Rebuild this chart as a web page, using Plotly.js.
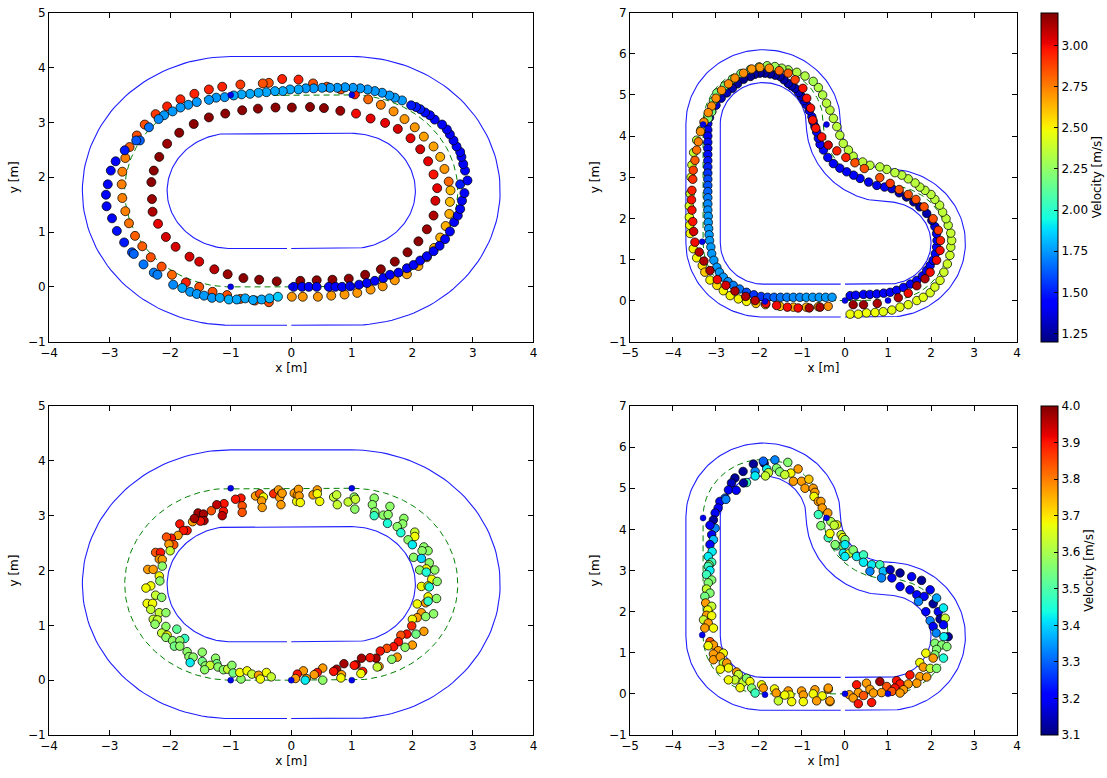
<!DOCTYPE html>
<html><head><meta charset="utf-8">
<script src="https://cdn.plot.ly/plotly-3.0.1.min.js"></script>
<style>html,body{margin:0;padding:0;background:#fff}#plot{width:1107px;height:778px}</style>
</head><body><div id="plot"></div>
<script>
// ---------------- DATA ----------------
// velocity ranges of the two colour bars
const topRange = [1.2, 3.2];
const botRange = [3.1, 4.0];
const topTicks = [1.25, 1.5, 1.75, 2.0, 2.25, 2.5, 2.75, 3.0];
const botTicks = [3.1, 3.2, 3.3, 3.4, 3.5, 3.6, 3.7, 3.8, 3.9, 4.0];

// oval track geometry: arc centres x = +-ovalCx, centre y, radii (inner, centre line, outer)
const ovalCx = 1.0, ovalCy = 1.75;
const ovalRadii = [1.05, 1.75, 2.45];
// heart track geometry: lobe / fillet centres, radii (inner, centre line, outer)
const heartBL = [-1.9, 1.4], heartR = [1.0, 1.4], heartT = [-1.9, 4.3], heartF = [1.0, 4.3];
const heartRadii = [1.0, 1.4, 1.8];

// waypoints (small dots)
const ovalWaypoints = [[0,0],[1,0],[1,3.5],[-1,3.5],[-1,0]];
const heartWaypoints = [[0,0],[1,0],[-0.43,4.28],[-3.3,4.28],[-3.32,1.43],[-1.86,-0.02]];

// top-left: [x, y, velocity]
const tlInner = [[0.15,0.11,3.18],[0.42,0.12,3.18],[0.68,0.13,3.18],[0.95,0.15,3.18],[1.22,0.22,3.18],[1.48,0.32,3.18],[1.71,0.46,3.18],[1.92,0.63,3.18],[2.10,0.83,3.18],[2.24,1.05,3.15],[2.35,1.30,3.12],[2.38,1.57,3.05],[2.41,1.80,3.02],[2.35,2.05,2.98],[2.26,2.29,3.02],[2.13,2.51,3.05],[1.97,2.71,3.02],[1.76,2.88,3.05],[1.55,2.99,3.02],[1.31,3.07,3.02],[1.07,3.16,3.0],[0.81,3.21,3.15],[0.54,3.26,3.18],[0.31,3.28,3.18],[0.01,3.27,3.18],[-0.26,3.27,3.18],[-0.55,3.25,3.18],[-0.81,3.22,3.18],[-1.09,3.16,3.18],[-1.36,3.09,3.18],[-1.61,2.97,3.18],[-1.85,2.81,3.18],[-2.05,2.61,3.15],[-2.18,2.37,3.18],[-2.27,2.12,3.18],[-2.31,1.91,3.18],[-2.30,1.60,3.15],[-2.29,1.37,3.12],[-2.20,1.15,3.02],[-2.07,0.91,3.05],[-1.91,0.73,3.05],[-1.68,0.55,3.05],[-1.52,0.46,3.05],[-1.27,0.32,3.1],[-1.05,0.23,3.15],[-0.79,0.16,3.18],[-0.53,0.13,3.18],[-0.24,0.10,3.18]];
const tlOuter = [[0.01,-0.18,2.7],[0.19,-0.18,2.7],[0.44,-0.18,2.7],[0.66,-0.16,2.7],[0.88,-0.14,2.7],[1.09,-0.11,2.7],[1.31,-0.05,2.7],[1.51,0.01,2.7],[1.71,0.12,2.7],[1.91,0.23,2.68],[2.10,0.38,2.68],[2.24,0.54,2.65],[2.36,0.71,2.65],[2.46,0.90,2.65],[2.55,1.11,2.65],[2.61,1.33,2.65],[2.62,1.55,2.62],[2.63,1.76,2.62],[2.60,1.92,2.8],[2.53,2.15,2.7],[2.46,2.37,2.65],[2.35,2.56,2.68],[2.19,2.74,2.68],[2.04,2.91,2.7],[1.87,3.06,2.7],[1.69,3.20,2.72],[1.48,3.32,2.75],[1.27,3.42,2.8],[1.05,3.51,2.95],[0.82,3.60,2.85],[0.59,3.65,2.85],[0.36,3.71,2.85],[0.12,3.78,2.95],[-0.15,3.79,2.95],[-0.37,3.72,2.85],[-0.47,3.71,2.85],[-0.84,3.69,2.9],[-1.14,3.65,2.95],[-1.36,3.60,2.95],[-1.60,3.52,2.95],[-1.83,3.42,2.95],[-2.05,3.29,2.95],[-2.24,3.15,2.9],[-2.42,2.96,2.85],[-2.55,2.76,2.85],[-2.67,2.55,2.82],[-2.74,2.35,2.75],[-2.79,2.10,2.75],[-2.80,1.87,2.75],[-2.79,1.62,2.75],[-2.74,1.38,2.75],[-2.68,1.16,2.78],[-2.58,0.93,2.82],[-2.46,0.74,2.82],[-2.32,0.54,2.85],[-2.14,0.37,2.85],[-1.97,0.22,2.8],[-1.74,0.08,2.95],[-1.52,0.0,2.85],[-1.30,-0.09,2.85],[-1.06,-0.15,2.85],[-0.84,-0.22,2.85],[-0.60,-0.25,2.85],[-0.37,-0.28,2.85]];
const tlSlow = [[0.04,0,1.45],[0.18,0,1.45],[0.29,0,1.45],[0.42,0,1.45],[0.62,0,1.45],[0.73,0,1.45],[0.84,0,1.45],[0.97,0.01,1.45],[1.12,0.04,1.45],[1.25,0.07,1.45],[1.38,0.11,1.45],[1.52,0.16,1.45],[1.63,0.22,1.45],[1.77,0.26,1.45],[1.91,0.34,1.45],[2.02,0.40,1.45],[2.13,0.48,1.45],[2.24,0.56,1.45],[2.35,0.65,1.45],[2.45,0.75,1.45],[2.54,0.87,1.45],[2.62,1.01,1.45],[2.69,1.18,1.45],[2.75,1.30,1.45],[2.79,1.42,1.45],[2.82,1.57,1.45],[2.86,1.71,1.45],[2.79,1.87,1.5],[2.91,1.94,1.45],[2.87,2.12,1.45],[2.84,2.24,1.45],[2.81,2.37,1.45],[2.79,2.46,1.45],[2.73,2.56,1.45],[2.68,2.67,1.45],[2.62,2.78,1.45],[2.57,2.87,1.45],[2.49,2.96,1.45],[2.37,3.05,1.45],[2.29,3.13,1.45],[2.21,3.18,1.47],[2.13,3.24,1.5],[2.06,3.28,1.5],[1.98,3.31,1.5],[1.83,3.40,1.75],[1.71,3.45,1.75],[1.62,3.49,1.75],[1.50,3.54,1.75],[1.38,3.57,1.75],[1.26,3.60,1.75],[1.14,3.62,1.75],[1.02,3.63,1.75],[0.89,3.64,1.75],[0.76,3.63,1.75],[0.64,3.63,1.75],[0.51,3.63,1.75],[0.37,3.62,1.75],[0.24,3.62,1.75],[0.12,3.60,1.78],[-0.02,3.60,1.78],[-0.14,3.57,1.78],[-0.27,3.57,1.78],[-0.41,3.55,1.78],[-0.54,3.54,1.78],[-0.68,3.52,1.78],[-0.82,3.51,1.78],[-0.95,3.49,1.78],[-1.10,3.46,1.75],[-1.24,3.45,1.75],[-1.36,3.41,1.75],[-1.56,3.37,1.75],[-1.70,3.32,1.75],[-1.83,3.27,1.75],[-1.96,3.20,1.75],[-2.10,3.13,1.75],[-2.19,3.06,1.72],[-2.35,2.91,1.68],[-2.50,2.67,1.65],[-2.56,2.67,1.62],[-2.75,2.49,1.5],[-2.90,2.29,1.45],[-2.98,2.12,1.45],[-3.03,1.87,1.45],[-3.06,1.68,1.45],[-3.05,1.47,1.45],[-2.96,1.25,1.45],[-2.88,1.02,1.48],[-2.76,0.81,1.5],[-2.63,0.63,1.6],[-2.60,0.60,1.65],[-2.44,0.41,1.68],[-2.27,0.26,1.7],[-2.21,0.22,1.7],[-1.95,0.04,1.72],[-1.80,-0.02,1.78],[-1.67,-0.09,1.75],[-1.56,-0.13,1.75],[-1.44,-0.16,1.75],[-1.31,-0.20,1.75],[-1.18,-0.20,1.78],[-1.03,-0.23,1.8],[-0.90,-0.23,1.78],[-0.76,-0.21,1.78],[-0.63,-0.24,1.78],[-0.49,-0.23,1.78],[-0.36,-0.21,1.8],[-0.22,-0.18,1.85]];

// top-right: [x, y, velocity]
const trSlow = [[0.12,0.12,1.45],[0.25,0.13,1.45],[0.43,0.15,1.45],[0.58,0.15,1.45],[0.74,0.16,1.45],[0.9,0.18,1.45],[1.05,0.2,1.45],[1.2,0.25,1.45],[1.36,0.32,1.45],[1.52,0.4,1.42],[1.67,0.49,1.42],[1.8,0.6,1.42],[1.9,0.73,1.42],[1.98,0.85,1.42],[2.05,0.98,1.42],[2.1,1.14,1.42],[2.13,1.3,1.42],[2.14,1.46,1.42],[2.13,1.63,1.4],[2.09,1.8,1.35],[2.02,1.95,1.3],[1.9,2.12,1.28],[1.74,2.28,1.25],[1.6,2.4,1.25],[1.43,2.52,1.25],[1.26,2.62,1.3],[1.09,2.72,1.35],[0.92,2.76,1.4],[0.74,2.8,1.4],[0.55,2.88,1.4],[0.35,2.97,1.42],[0.2,3.05,1.42],[0.04,3.13,1.42],[-0.12,3.22,1.42],[-0.27,3.33,1.42],[-0.4,3.48,1.42],[-0.5,3.66,1.42],[-0.58,3.8,1.42],[-0.62,3.95,1.42],[-0.66,4.1,1.42],[-0.7,4.23,1.42],[-0.74,4.35,1.42],[-0.77,4.47,1.42],[-0.83,4.62,1.4],[-0.89,4.76,1.38],[-0.95,4.86,1.35],[-1.01,4.96,1.32],[-1.08,5.06,1.3],[-1.16,5.16,1.3],[-1.24,5.22,1.28],[-1.32,5.28,1.28],[-1.42,5.37,1.27],[-1.51,5.45,1.25],[-1.62,5.48,1.25],[-1.74,5.51,1.25],[-1.86,5.53,1.25],[-1.98,5.53,1.25],[-2.1,5.5,1.25],[-2.2,5.45,1.22],[-2.36,5.38,1.22],[-2.5,5.27,1.25],[-2.62,5.16,1.28],[-2.75,5.05,1.3],[-2.88,4.92,1.3],[-3.0,4.75,1.35],[-3.1,4.6,1.4],[-3.15,4.45,1.42],[-3.19,4.3,1.45],[-3.19,4.15,1.45],[-3.19,4.0,1.45],[-3.19,3.85,1.47],[-3.19,3.7,1.47],[-3.19,3.55,1.48],[-3.19,3.4,1.5],[-3.19,3.25,1.52],[-3.19,3.1,1.55],[-3.19,2.95,1.6],[-3.19,2.8,1.62],[-3.19,2.65,1.65],[-3.19,2.5,1.7],[-3.19,2.35,1.72],[-3.19,2.2,1.74],[-3.18,2.05,1.75],[-3.18,1.9,1.75],[-3.17,1.75,1.75],[-3.16,1.6,1.75],[-3.15,1.46,1.75],[-3.12,1.3,1.75],[-3.1,1.14,1.75],[-3.05,0.98,1.75],[-2.98,0.81,1.75],[-2.92,0.69,1.75],[-2.83,0.57,1.75],[-2.72,0.46,1.72],[-2.6,0.37,1.7],[-2.45,0.28,1.68],[-2.29,0.2,1.6],[-2.12,0.14,1.55],[-1.95,0.1,1.55],[-1.8,0.08,1.6],[-1.65,0.08,1.65],[-1.5,0.08,1.68],[-1.35,0.08,1.7],[-1.2,0.08,1.72],[-1.05,0.08,1.72],[-0.9,0.08,1.75],[-0.75,0.08,1.75],[-0.6,0.08,1.75],[-0.45,0.08,1.75],[-0.3,0.08,1.75]];
const trMid = [[0.12,-0.33,2.48],[0.31,-0.33,2.48],[0.5,-0.3,2.48],[0.7,-0.29,2.48],[0.89,-0.27,2.45],[1.09,-0.23,2.45],[1.28,-0.16,2.45],[1.47,-0.1,2.45],[1.67,0.0,2.45],[1.82,0.08,2.45],[1.98,0.19,2.42],[2.09,0.33,2.42],[2.21,0.49,2.42],[2.3,0.69,2.4],[2.38,0.89,2.4],[2.44,1.1,2.4],[2.46,1.3,2.38],[2.48,1.46,2.38],[2.46,1.64,2.38],[2.4,1.83,2.36],[2.35,1.99,2.36],[2.27,2.15,2.36],[2.2,2.32,2.36],[2.09,2.46,2.35],[2.0,2.58,2.35],[1.86,2.68,2.35],[1.74,2.76,2.35],[1.63,2.86,2.35],[1.47,2.96,2.35],[1.32,3.05,2.35],[1.16,3.11,2.35],[0.97,3.19,2.35],[0.81,3.25,2.35],[0.58,3.29,2.35],[0.41,3.37,2.35],[0.19,3.51,2.35],[0.08,3.66,2.35],[-0.04,3.82,2.35],[-0.12,4.02,2.35],[-0.19,4.23,2.35],[-0.27,4.43,2.35],[-0.35,4.63,2.35],[-0.43,4.8,2.35],[-0.52,5.0,2.33],[-0.62,5.18,2.33],[-0.74,5.33,2.3],[-0.93,5.46,2.33],[-1.12,5.55,2.33],[-1.32,5.61,2.3],[-1.47,5.65,2.3],[-1.63,5.69,2.28],[-1.81,5.71,2.28],[-2.0,5.68,2.25],[-2.2,5.62,2.25],[-2.42,5.52,2.22],[-2.62,5.38,2.22],[-2.8,5.22,2.2],[-2.98,5.05,2.2],[-3.06,4.85,2.2],[-3.1,4.59,2.2],[-3.18,4.43,2.22],[-3.35,4.15,2.3],[-3.45,3.9,2.35],[-3.52,3.6,2.38],[-3.56,3.3,2.4],[-3.58,3.0,2.42],[-3.6,2.6,2.4],[-3.62,2.3,2.42],[-3.62,2.03,2.45],[-3.61,1.83,2.48],[-3.6,1.63,2.5],[-3.53,1.26,2.5],[-3.45,1.04,2.5],[-3.32,0.85,2.55],[-3.26,0.69,2.6],[-3.14,0.5,2.5],[-2.98,0.37,2.55],[-2.83,0.24,2.5],[-2.67,0.12,2.5],[-2.48,0.04,2.5],[-2.29,-0.02,2.5],[-2.07,-0.07,2.6],[-1.85,-0.1,2.6],[-1.51,-0.14,2.6],[-1.2,-0.16,2.65],[-0.9,-0.16,2.65],[-0.62,-0.15,2.7]];
const trFast = [[0.19,-0.1,3.15],[0.43,-0.1,3.15],[0.75,-0.07,3.12],[1.24,0.07,3.12],[1.47,0.18,3.0],[1.67,0.36,3.12],[1.86,0.53,3.12],[1.98,0.69,3.0],[2.13,0.98,3.0],[2.21,1.22,3.0],[2.22,1.46,2.95],[2.17,1.71,2.9],[2.05,1.99,2.85],[1.84,2.28,2.85],[1.65,2.46,2.85],[1.47,2.58,2.85],[1.26,2.7,2.85],[1.05,2.85,2.9],[0.81,2.99,2.85],[0.45,3.21,2.85],[0.23,3.35,2.85],[0.02,3.48,2.95],[-0.19,3.64,2.95],[-0.39,3.78,3.05],[-0.54,3.98,2.98],[-0.68,4.19,2.98],[-0.75,4.39,2.98],[-0.8,4.68,2.98],[-0.89,4.92,2.98],[-0.98,5.16,2.98],[-1.16,5.37,2.88],[-1.32,5.53,2.82],[-1.53,5.59,2.8],[-1.76,5.65,2.72],[-1.98,5.67,2.7],[-2.17,5.63,2.7],[-2.36,5.53,2.72],[-2.56,5.41,2.72],[-2.71,5.27,2.72],[-2.87,5.11,2.72],[-3.0,4.92,2.72],[-3.1,4.73,2.72],[-3.18,4.57,2.72],[-3.28,4.34,2.72],[-3.36,4.11,2.72],[-3.41,3.86,2.75],[-3.45,3.66,2.78],[-3.49,3.41,2.82],[-3.53,3.17,2.88],[-3.54,2.95,2.92],[-3.56,2.68,2.95],[-3.57,2.45,2.98],[-3.56,2.2,2.98],[-3.54,1.92,2.98],[-3.52,1.68,3.05],[-3.49,1.42,3.0],[-3.39,1.18,3.1],[-3.28,0.96,3.12],[-3.14,0.73,3.12],[-2.97,0.51,3.0],[-2.77,0.37,3.05],[-2.56,0.23,3.12],[-2.31,0.1,3.12],[-2.09,0.0,3.1],[-1.84,-0.07,3.0],[-1.59,-0.12,3.0],[-1.34,-0.16,3.0],[-1.09,-0.18,3.0],[-0.83,-0.18,3.12],[-0.58,-0.16,3.12],[-0.39,-0.14,2.72]];

// bottom-left: [x, y, velocity]
const blPoints = [[-0.83,3.32,3.9],[-0.92,3.30,3.9],[-0.81,3.18,3.84],[-0.81,3.06,3.84],[-1.11,3.22,3.9],[-1.23,3.20,3.95],[-1.12,3.08,3.9],[-1.14,3.00,3.95],[-1.32,3.09,3.84],[-1.54,3.05,3.97],[-1.45,3.03,3.97],[-1.44,2.91,3.97],[-1.50,2.90,3.9],[-1.63,2.89,3.77],[-1.60,2.95,3.97],[-1.84,2.85,3.9],[-1.72,2.73,3.9],[-1.78,2.73,3.9],[-1.87,2.64,3.77],[-1.98,2.59,3.9],[-2.06,2.61,3.84],[-1.94,2.47,3.84],[-2.02,2.48,3.77],[-2.00,2.36,3.63],[-2.24,2.33,3.84],[-2.16,2.33,3.9],[-2.18,2.21,3.77],[-2.13,2.20,3.77],[-2.13,2.08,3.57],[-2.37,2.02,3.77],[-2.28,2.02,3.77],[-2.18,1.90,3.68],[-2.17,1.81,3.57],[-2.32,1.72,3.68],[-2.40,1.68,3.68],[-2.24,1.55,3.63],[-2.14,1.51,3.57],[-2.38,1.40,3.68],[-2.29,1.40,3.68],[-2.32,1.29,3.63],[-2.18,1.23,3.63],[-2.07,1.23,3.57],[-2.28,1.11,3.63],[-2.21,1.10,3.63],[-2.25,1.02,3.57],[-2.07,0.98,3.57],[-1.89,0.93,3.52],[-2.14,0.86,3.63],[-2.05,0.82,3.68],[-2.07,0.78,3.57],[-1.76,0.76,3.47],[-1.96,0.72,3.57],[-1.84,0.72,3.57],[-1.93,0.62,3.54],[-1.84,0.62,3.57],[-1.72,0.52,3.57],[-1.47,0.51,3.57],[-1.69,0.43,3.57],[-1.62,0.42,3.57],[-1.67,0.32,3.42],[-1.47,0.34,3.54],[-1.25,0.40,3.57],[-1.23,0.30,3.54],[-1.42,0.26,3.57],[-1.34,0.27,3.63],[-1.43,0.19,3.57],[-1.21,0.24,3.57],[-1.12,0.19,3.57],[-1.05,0.20,3.63],[-0.98,0.27,3.57],[-0.96,0.13,3.54],[-0.83,0.02,3.57],[-0.85,0.14,3.68],[-0.73,0.17,3.68],[-0.65,0.11,3.63],[-0.54,0.09,3.77],[-0.51,0.02,3.68],[-0.41,0.14,3.68],[-0.33,0.06,3.63],[-0.59,3.36,3.77],[-0.52,3.40,3.84],[-0.46,3.34,3.68],[-0.49,3.27,3.77],[-0.48,3.15,3.77],[-0.29,3.40,3.88],[-0.21,3.47,3.77],[-0.16,3.40,3.63],[-0.19,3.33,3.77],[-0.17,3.20,3.77],[0.05,3.41,3.77],[0.10,3.37,3.77],[0.09,3.26,3.68],[-0.15,3.41,3.77],[0.12,3.48,3.77],[0.13,3.36,3.77],[0.15,3.24,3.68],[0.36,3.38,3.77],[0.43,3.47,3.77],[0.43,3.40,3.68],[0.47,3.26,3.68],[0.70,3.34,3.63],[0.75,3.38,3.63],[0.76,3.20,3.63],[0.94,3.25,3.63],[1.04,3.34,3.57],[1.06,3.30,3.63],[1.05,3.12,3.57],[1.37,3.32,3.57],[1.34,3.20,3.57],[1.38,3.07,3.57],[1.37,3.00,3.47],[1.63,3.17,3.57],[1.52,3.01,3.57],[1.60,3.02,3.57],[1.59,2.86,3.45],[1.86,2.95,3.57],[1.84,2.85,3.57],[1.75,2.80,3.57],[1.81,2.69,3.45],[2.04,2.70,3.63],[2.04,2.62,3.68],[1.93,2.56,3.57],[2.00,2.47,3.42],[2.19,2.43,3.57],[2.26,2.36,3.57],[2.16,2.36,3.57],[2.02,2.24,3.57],[2.15,2.22,3.4],[2.28,2.14,3.57],[2.23,2.03,3.68],[2.12,2.01,3.57],[2.37,2.01,3.57],[2.23,1.97,3.45],[2.32,1.84,3.68],[2.41,1.80,3.57],[2.15,1.71,3.68],[2.26,1.72,3.68],[2.28,1.70,3.45],[2.26,1.52,3.68],[2.40,1.49,3.57],[2.08,1.39,3.68],[2.22,1.41,3.77],[2.26,1.44,3.47],[2.15,1.23,3.77],[2.35,1.21,3.57],[2.08,1.14,3.77],[2.22,1.16,3.57],[2.00,1.11,3.68],[1.99,0.99,3.88],[2.19,0.89,3.77],[2.06,0.84,3.54],[1.91,0.84,3.9],[1.81,0.82,3.84],[2.00,0.64,3.77],[1.88,0.60,3.57],[1.77,0.70,3.9],[1.69,0.61,3.9],[1.58,0.58,3.84],[1.47,0.53,3.9],[1.75,0.42,3.77],[1.66,0.38,3.57],[1.40,0.40,3.97],[1.30,0.41,3.9],[1.45,0.25,3.77],[1.42,0.24,3.63],[1.16,0.40,3.97],[1.07,0.28,3.97],[1.04,0.27,3.9],[1.18,0.16,3.9],[1.15,0.12,3.68],[0.87,0.30,3.97],[0.75,0.20,3.97],[0.70,0.16,3.9],[0.83,0.10,3.77],[0.82,0.04,3.68],[0.52,0.22,3.77],[0.43,0.14,3.9],[0.38,0.10,3.77],[0.52,0.00,3.57],[0.20,0.17,3.77],[0.10,0.11,3.9],[0.07,0.03,3.77],[0.25,0.03,3.77],[0.23,0.00,3.42]];

// bottom-right: [x, y, velocity]
const brPoints = [[-2.13,5.59,3.12],[-2.37,5.41,3.12],[-2.56,5.25,3.12],[-2.64,5.13,3.15],[-2.71,4.96,3.2],[-2.79,4.76,3.28],[-2.91,4.68,3.2],[-2.95,4.52,3.2],[-3.02,4.40,3.2],[-3.06,4.23,3.12],[-3.02,4.03,3.33],[-3.14,4.10,3.2],[-3.10,3.87,3.2],[-3.06,3.75,3.38],[-3.14,3.63,3.2],[-3.09,3.46,3.42],[-3.18,3.34,3.42],[-3.10,3.20,3.48],[-3.16,3.14,3.56],[-2.29,5.14,3.48],[-2.36,5.13,3.12],[-2.53,4.95,3.2],[-2.77,4.73,3.33],[-1.88,5.61,3.12],[-1.90,5.66,3.3],[-1.63,5.69,3.33],[-1.82,5.47,3.42],[-2.09,5.41,3.33],[-2.09,5.30,3.42],[-1.78,5.38,3.63],[-1.85,5.30,3.63],[-1.59,5.49,3.56],[-1.52,5.40,3.56],[-1.33,5.63,3.56],[-1.26,5.37,3.68],[-1.40,5.33,3.63],[-1.09,5.47,3.77],[-1.20,5.17,3.77],[-1.01,5.17,3.77],[-0.84,5.22,3.73],[-0.93,5.00,3.77],[-0.74,5.00,3.77],[-0.70,4.90,3.77],[-0.72,4.80,3.68],[-0.62,4.68,3.77],[-0.56,4.68,3.77],[-0.53,4.52,3.77],[-0.62,4.36,3.48],[-0.40,4.40,3.77],[-0.33,4.19,3.6],[-0.56,4.09,3.56],[-0.19,4.11,3.68],[-0.25,4.10,3.63],[-0.39,3.80,3.48],[-0.35,3.90,3.68],[-0.09,3.87,3.63],[-0.05,3.80,3.68],[-0.19,3.60,3.48],[-0.05,3.60,3.56],[-0.04,3.42,3.42],[0.10,3.42,3.63],[-0.23,3.63,3.56],[0.00,3.75,3.56],[0.00,3.63,3.42],[0.00,3.34,3.42],[0.19,3.50,3.56],[0.27,3.34,3.42],[0.43,3.38,3.48],[0.43,3.20,3.42],[0.62,3.14,3.42],[0.58,2.98,3.33],[0.81,3.14,3.48],[0.89,2.98,3.38],[0.85,2.82,3.33],[1.05,3.02,3.15],[1.09,2.82,3.2],[1.28,2.94,3.12],[1.28,2.61,3.2],[1.55,2.85,3.2],[1.51,2.53,3.2],[1.78,2.76,3.12],[1.67,2.41,3.2],[1.84,2.37,3.2],[1.98,2.53,3.2],[1.71,2.25,3.33],[2.05,2.19,3.12],[2.13,2.33,3.36],[1.88,2.00,3.2],[2.17,2.00,3.2],[2.29,2.09,3.42],[1.98,1.78,3.33],[2.21,1.82,3.12],[2.33,1.84,3.63],[2.05,1.64,3.2],[2.29,1.68,3.2],[2.12,1.48,3.33],[2.40,1.39,3.12],[2.30,1.39,3.42],[2.09,1.23,3.56],[2.25,1.19,3.56],[2.37,1.15,3.56],[2.13,1.08,3.56],[2.09,0.95,3.56],[1.88,0.99,3.68],[2.05,0.87,3.77],[2.29,0.87,3.45],[1.74,0.76,3.68],[1.82,0.65,3.77],[1.98,0.62,3.63],[2.13,0.62,3.56],[1.51,0.46,3.9],[1.74,0.42,3.77],[1.90,0.41,3.77],[1.20,0.32,3.9],[1.28,0.24,3.9],[1.47,0.24,3.77],[1.67,0.26,3.77],[0.81,0.30,3.97],[0.97,0.18,3.84],[1.16,0.14,3.9],[1.36,0.10,3.77],[0.50,0.26,3.77],[0.58,0.11,3.77],[0.27,0.22,3.9],[0.31,0.03,3.77],[0.66,0.02,3.77],[0.85,0.03,3.77],[1.09,0.06,3.84],[1.28,0.02,3.77],[0.10,-0.02,3.77],[0.19,-0.10,3.77],[0.31,-0.24,3.9],[0.62,-0.21,3.9],[0.43,-0.04,3.84],[-0.39,0.11,3.77],[-0.35,-0.19,3.77],[-0.53,-0.05,3.68],[-3.18,3.10,3.48],[-3.14,3.00,3.42],[-3.22,2.90,3.48],[-3.10,2.77,3.56],[-3.18,2.70,3.56],[-3.22,2.55,3.63],[-3.14,2.45,3.56],[-3.26,2.37,3.54],[-3.24,2.21,3.77],[-3.10,2.13,3.63],[-3.19,2.04,3.68],[-3.22,1.91,3.77],[-3.10,1.90,3.68],[-3.29,1.80,3.63],[-3.18,1.72,3.77],[-3.26,1.60,3.77],[-3.06,1.60,3.68],[-3.14,1.27,3.84],[-3.06,1.19,3.77],[-3.18,1.17,3.68],[-2.95,1.05,3.77],[-3.06,0.97,3.77],[-2.83,0.99,3.68],[-3.06,0.83,3.77],[-2.90,0.90,3.77],[-2.83,0.75,3.63],[-2.75,0.75,3.77],[-2.71,0.63,3.68],[-2.90,0.60,3.68],[-2.52,0.53,3.77],[-2.48,0.47,3.63],[-2.56,0.34,3.63],[-2.71,0.34,3.68],[-2.37,0.28,3.63],[-2.29,0.38,3.56],[-2.21,0.30,3.68],[-2.44,0.15,3.68],[-2.17,0.14,3.56],[-2.09,0.02,3.48],[-1.94,0.22,3.68],[-1.90,0.14,3.77],[-1.64,0.12,3.68],[-1.60,0.02,3.77],[-1.55,-0.17,3.63],[-1.32,0.07,3.77],[-1.28,-0.03,3.68],[-1.24,-0.19,3.68],[-1.40,-0.03,3.68],[-1.01,0.07,3.77],[-0.97,-0.03,3.77],[-0.97,-0.19,3.68],[-0.70,0.10,3.77],[-0.74,0.00,3.68],[-0.66,-0.17,3.77],[-0.39,0.14,3.77],[-0.35,-0.17,3.77]];

// ---------------- DRAWING ----------------
const jet = [[0,'rgb(0,0,128)'],[0.11,'rgb(0,0,255)'],[0.125,'rgb(0,0,255)'],[0.34,'rgb(0,219,255)'],[0.35,'rgb(0,230,247)'],[0.375,'rgb(21,255,226)'],[0.64,'rgb(239,255,8)'],[0.65,'rgb(247,245,0)'],[0.66,'rgb(255,236,0)'],[0.89,'rgb(255,19,0)'],[0.91,'rgb(232,0,0)'],[1,'rgb(128,0,0)']];

function arc(cx, cy, r, a0, a1, n) {
  const out = [];
  for (let i = 0; i <= n; i++) {
    const a = (a0 + (a1 - a0) * i / n) * Math.PI / 180;
    out.push([cx + r * Math.cos(a), cy + r * Math.sin(a)]);
  }
  return out;
}
function ovalPath(r, gap) {
  let p = [[0, ovalCy - r]];
  p = p.concat(arc(ovalCx, ovalCy, r, -90, 90, 80));
  p = p.concat(arc(-ovalCx, ovalCy, r, 90, 270, 80));
  p.push([-gap, ovalCy - r]);
  return p;
}
function heartPath(r, gap) {
  const fr = heartF[1] - heartR[1];
  let p = [[0, heartBL[1] - r]];
  p = p.concat(arc(heartR[0], heartR[1], r, -90, 90, 80));
  p = p.concat(arc(heartF[0], heartF[1], fr - r, 270, 180, 60));
  p = p.concat(arc(heartT[0], heartT[1], r, 0, 180, 80));
  p = p.concat(arc(heartBL[0], heartBL[1], r, 180, 270, 40));
  p.push([-gap, heartBL[1] - r]);
  return p;
}
const traces = [];
function trackTraces(pathFn, radii, gap, xa, ya) {
  radii.forEach((r, i) => {
    const isCenter = i === 1;
    const p = pathFn(r, isCenter ? 0 : gap);
    traces.push({type:'scatter', mode:'lines', x:p.map(q=>q[0]), y:p.map(q=>q[1]), xaxis:xa, yaxis:ya,
      line: isCenter ? {color:'rgb(0,128,0)', width:1, dash:'6px,4px'} : {color:'rgb(30,30,255)', width:1.1},
      hoverinfo:'skip', showlegend:false});
  });
}
function pointTrace(pts, xa, ya, cax, size) {
  traces.push({type:'scatter', mode:'markers', x:pts.map(q=>q[0]), y:pts.map(q=>q[1]), xaxis:xa, yaxis:ya,
    marker:{color:pts.map(q=>q[2]), coloraxis:cax, size:size, line:{color:'rgba(0,0,0,0.75)', width:1}},
    showlegend:false});
}
function waypointTrace(pts, xa, ya) {
  traces.push({type:'scatter', mode:'markers', x:pts.map(q=>q[0]), y:pts.map(q=>q[1]), xaxis:xa, yaxis:ya,
    marker:{color:'rgb(0,0,235)', size:6, line:{color:'rgba(0,0,60,0.8)', width:0.5}}, showlegend:false});
}

trackTraces(ovalPath, ovalRadii, 0.07, 'x', 'y');
pointTrace(tlInner, 'x', 'y', 'coloraxis', 9);
pointTrace(tlOuter, 'x', 'y', 'coloraxis', 9);
pointTrace(tlSlow, 'x', 'y', 'coloraxis', 9);
waypointTrace(ovalWaypoints, 'x', 'y');

trackTraces(heartPath, heartRadii, 0.1, 'x2', 'y2');
pointTrace(trSlow, 'x2', 'y2', 'coloraxis', 8.5);
pointTrace(trMid, 'x2', 'y2', 'coloraxis', 8.5);
pointTrace(trFast, 'x2', 'y2', 'coloraxis', 8.5);
waypointTrace(heartWaypoints, 'x2', 'y2');

trackTraces(ovalPath, ovalRadii, 0.07, 'x3', 'y3');
pointTrace(blPoints, 'x3', 'y3', 'coloraxis2', 8.5);
waypointTrace(ovalWaypoints, 'x3', 'y3');

trackTraces(heartPath, heartRadii, 0.1, 'x4', 'y4');
pointTrace(brPoints, 'x4', 'y4', 'coloraxis2', 8.5);
waypointTrace(heartWaypoints, 'x4', 'y4');

const font = {family:'DejaVu Sans, Arial, sans-serif', size:12, color:'#000'};
function ax(domain, range, anchor, title, standoff) {
  return {domain:domain, range:range, anchor:anchor, dtick:1, tick0:0, showgrid:false, zeroline:false,
    showline:true, linecolor:'#000', linewidth:1, mirror:'ticks', ticks:'inside', ticklen:5, tickwidth:1,
    tickcolor:'#000', tickfont:font, title:{text:title, font:font, standoff:standoff}, fixedrange:true};
}
const xL = [0.0443, 0.4819], xR = [0.5691, 0.9187];
const yT = [0.5608, 0.9837], yB = [0.0553, 0.4781];
function cbar(y, tickvals, fmt) {
  return {x:0.9404, xanchor:'left', y:y, yanchor:'middle', len:0.4229, lenmode:'fraction', thickness:17,
    thicknessmode:'pixels', outlinecolor:'#000', outlinewidth:1, ticks:'inside', ticklen:4, tickcolor:'#000',
    tickvals:tickvals, tickformat:fmt, tickfont:font, xpad:0, ypad:0,
    title:{text:'Velocity [m/s]', side:'right', font:font}};
}
const layout = {
  width:1107, height:778, margin:{l:0, r:0, t:0, b:0}, paper_bgcolor:'#fff', plot_bgcolor:'#fff',
  font:font, showlegend:false,
  xaxis: ax(xL, [-4,4], 'y', 'x [m]', 4),
  yaxis: ax(yT, [-1,5], 'x', 'y [m]', 6),
  xaxis2: ax(xR, [-5,4], 'y2', 'x [m]', 4),
  yaxis2: ax(yT, [-1,7], 'x2', 'y [m]', 6),
  xaxis3: ax(xL, [-4,4], 'y3', 'x [m]', 4),
  yaxis3: ax(yB, [-1,5], 'x3', 'y [m]', 6),
  xaxis4: ax(xR, [-5,4], 'y4', 'x [m]', 4),
  yaxis4: ax(yB, [-1,7], 'x4', 'y [m]', 6),
  coloraxis: {cmin:topRange[0], cmax:topRange[1], colorscale:jet, colorbar:cbar((yT[0]+yT[1])/2, topTicks, '.2f')},
  coloraxis2: {cmin:botRange[0], cmax:botRange[1], colorscale:jet, colorbar:cbar((yB[0]+yB[1])/2, botTicks, '.1f')}
};
Plotly.newPlot('plot', traces, layout, {staticPlot:true, displayModeBar:false});
</script>
</body></html>
